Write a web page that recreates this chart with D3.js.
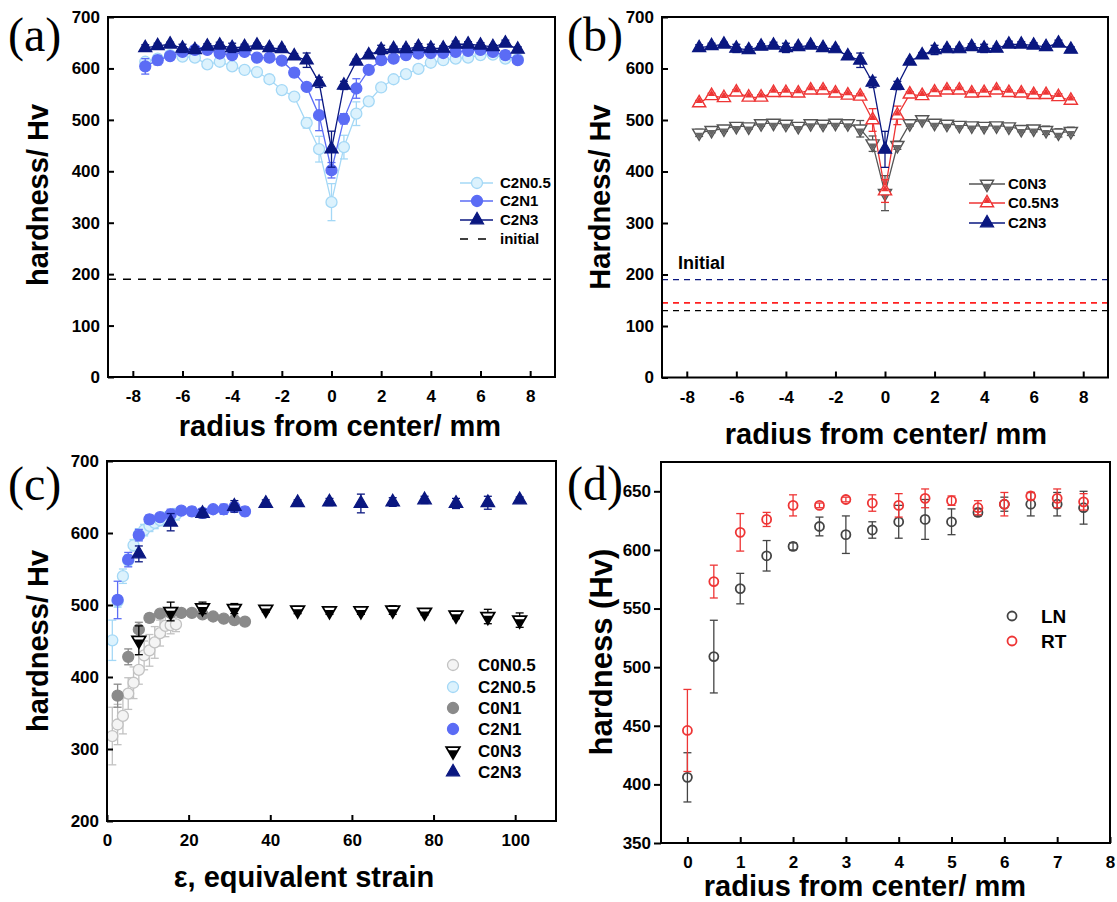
<!DOCTYPE html>
<html>
<head>
<meta charset="utf-8">
<script src="https://cdn.jsdelivr.net/npm/d3@7"></script>
<style>
  body { margin: 0; background: #fff; }
  svg { display: block; }
</style>
</head>
<body>
<svg id="fig" width="1117" height="902"></svg>
<script>
// ---------- data ----------
// radial positions across the disc (mm)
const radiusFull = [-7.5,-7,-6.5,-6,-5.5,-5,-4.5,-4,-3.5,-3,-2.5,-2,-1.5,-1,-0.5,0,0.5,1,1.5,2,2.5,3,3.5,4,4.5,5,5.5,6,6.5,7,7.5];

// (a) hardness profiles, C2 series
const a_C2N05 = [613,619,626,623,621,608,613,604,597,593,579,558,545,494,443,340,447,512,536,563,579,589,599,611,616,619,621,626,627,619,618];
const a_C2N05_err = [6,6,5,5,5,6,6,5,5,5,8,6,6,10,25,36,23,23,8,6,6,5,6,7,6,6,5,5,5,6,5];
const a_C2N1 = [604,616,624,632,636,636,629,626,632,621,621,615,592,564,509,402,502,561,597,616,619,626,629,630,630,632,634,636,632,626,616];
const a_C2N1_err = [15,9,7,6,5,5,5,6,5,5,5,6,8,6,30,15,10,19,6,7,5,5,5,5,5,6,5,5,5,8,6];
const C2N3 = [640,644,647,639,636,643,645,640,642,645,640,638,624,616,573,443,567,614,626,636,638,638,642,639,639,647,647,645,642,649,637];
const C2N3_err = [6,5,4,8,6,5,6,9,5,4,4,5,5,14,10,35,8,4,5,9,5,5,6,8,5,6,5,5,4,6,5];
const a_initial = 190;

// (b) hardness profiles, N3 series
const b_C0N3 = [475,480,483,488,487,493,494,492,488,493,492,494,493,483,454,358,451,493,501,494,492,490,489,488,489,487,482,483,480,475,478];
const b_C0N3_err = [7,5,5,5,5,5,4,5,5,4,5,5,6,16,15,34,8,5,4,5,5,5,5,5,5,5,5,6,8,8,8];
const b_C05N3 = [533,547,543,554,544,544,553,553,552,558,558,552,548,546,500,362,509,550,547,554,558,558,552,553,558,553,552,549,549,545,538];
const b_C05N3_err = [5,5,5,5,5,5,4,5,5,4,5,5,5,5,22,22,18,5,5,5,5,5,5,5,5,5,5,6,5,6,5];
const b_initial = [190, 145, 130];   // C2N3, C0.5N3, C0N3 starting hardness

// (c) hardness vs equivalent strain
const strainN05 = [1.3,2.6,3.9,5.2,6.5,7.8,9.1,10.4,11.7,13,14.3,15.6,16.9];
const strainN1  = [2.6,5.2,7.8,10.4,13,15.6,18.2,20.8,23.4,26,28.6,31.2,33.8];
const strainN3  = [7.8,15.6,23.4,31.2,38.9,46.7,54.5,62.2,70,77.8,85.5,93.3,101.1];
const c_C0N05 = [318,334,346,377,392,410,430,437,448,461,471,472,473];
const c_C0N05_err = [40,28,25,22,22,20,20,22,22,18,15,12,10];
const c_C2N05 = [451,505,540,562,583,598,604,610,614,618,621,623,626];
const c_C2N05_err = [28,8,10,8,8,8,8,8,8,8,8,8,8];
const c_C0N1 = [374,428,466,482,488,489,489,489,487,484,481,479,477];
const c_C0N1_err = [16,11,10,6,4,4,4,4,4,4,4,4,4];
const c_C2N1 = [507,563,597,619,622,626,631,630,628,633,633,636,630];
const c_C2N1_err = [26,10,8,6,5,7,5,6,6,4,7,6,6];
const c_C0N3 = [451,491,496,495,494,493,492,492,493,490,486,484,479];
const c_C0N3_err = [20,13,8,7,4,5,5,5,6,4,5,10,10];
const c_C2N3 = [571,615,627,637,641,642,643,641,643,646,641,642,646];
const c_C2N3_err = [11,12,6,8,5,4,5,13,6,5,7,9,4];

// (d) half profile, LN vs RT processing
const radiusHalf = [0,0.5,1,1.5,2,2.5,3,3.5,4,4.5,5,5.5,6,6.5,7,7.5];
const d_LN = [406,509,567,595,603,620,613,617,624,626,624,632,639,639,639,636];
const d_LN_err = [21,31,13,13,3,8,16,7,14,17,11,3,6,10,10,14];
const d_RT = [446,573,615,626,638,638,643,640,638,644,642,636,639,646,644,641];
const d_RT_err = [35,14,16,6,9,2,2,7,10,8,4,6,10,3,8,7];

// tick values
const ticksRadiusSym = [-8,-6,-4,-2,0,2,4,6,8];
const ticksHard700 = [0,100,200,300,400,500,600,700];
const ticksStrain = [0,20,40,60,80,100];
const ticksHardC = [200,300,400,500,600,700];
const ticksRadiusHalf = [0,1,2,3,4,5,6,7,8];
const ticksHardD = [350,400,450,500,550,600,650];

// ---------- helpers ----------
const svg = d3.select('#fig');
const SANS = '"Liberation Sans", Arial, Helvetica, sans-serif';
const SERIF = '"Liberation Serif", "Times New Roman", serif';

const COL = {
  lightBlue: '#a4d8f6', lightBlueFill: '#dcf2fd',
  midBlue: '#5b6cf5', navy: '#0a1780',
  gray: '#555555', red: '#ee3535',
  lightGray: '#c2c2c2', midGray: '#8a8a8a'
};

function makePanel(box, xDom, yDom) {
  const x = d3.scaleLinear().domain(xDom).range([box.l, box.r]);
  const y = d3.scaleLinear().domain(yDom).range([box.b, box.t]);
  const g = svg.append('g');
  return { x, y, g, box };
}

function styleAxis(sel, size) {
  sel.select('.domain').remove();
  sel.selectAll('.tick line').attr('stroke', '#000').attr('stroke-width', 2);
  sel.selectAll('.tick text')
    .attr('fill', '#000')
    .style('font-family', SANS).style('font-weight', 'bold').style('font-size', size + 'px');
}

function drawAxes(p, o) {
  const fmt = d => String(d);
  const gx = p.g.append('g').attr('transform', `translate(0,${p.box.b})`)
    .call(d3.axisBottom(p.x).tickValues(o.xTicks).tickFormat(fmt)
      .tickSizeInner(o.xInner).tickSizeOuter(0).tickPadding(o.xPad));
  styleAxis(gx, 17);
  const gy = p.g.append('g').attr('transform', `translate(${p.box.l},0)`)
    .call(d3.axisLeft(p.y).tickValues(o.yTicks).tickFormat(fmt)
      .tickSizeInner(o.yInner).tickSizeOuter(0).tickPadding(o.yPad));
  styleAxis(gy, 17);
}

function drawFrame(p) {
  p.g.append('rect')
    .attr('x', p.box.l).attr('y', p.box.t)
    .attr('width', p.box.r - p.box.l).attr('height', p.box.b - p.box.t)
    .attr('fill', 'none').attr('stroke', '#000').attr('stroke-width', 2);
}

// marker glyphs
function marker(g, kind, cx, cy, st) {
  const t = `translate(${cx},${cy})`;
  if (kind === 'circle') {
    g.append('circle').attr('cx', cx).attr('cy', cy).attr('r', st.r || 5.5)
      .attr('fill', st.fill).attr('stroke', st.stroke).attr('stroke-width', st.sw || 1.3);
  } else if (kind === 'triUp') {
    g.append('path').attr('d', d3.symbol().type(d3.symbolTriangle).size(st.size || 70)())
      .attr('transform', t).attr('fill', st.fill).attr('stroke', st.stroke).attr('stroke-width', st.sw || 1.2);
  } else if (kind === 'triUpHalf') {
    g.append('path').attr('d', d3.symbol().type(d3.symbolTriangle).size(st.size || 70)())
      .attr('transform', t).attr('fill', '#fff').attr('stroke', st.stroke).attr('stroke-width', st.sw || 1.4);
    g.append('path').attr('d', d3.symbol().type(d3.symbolTriangle).size((st.size || 70) * 0.3)())
      .attr('transform', `translate(${cx},${cy - 2})`).attr('fill', st.stroke).attr('stroke', 'none');
  } else if (kind === 'triDownHalf') {
    g.append('path').attr('d', d3.symbol().type(d3.symbolTriangle).size(st.size || 70)())
      .attr('transform', t + ' rotate(180)').attr('fill', '#fff').attr('stroke', st.stroke).attr('stroke-width', st.sw || 1.4);
    const k = st.innerScale || 0.35;
    g.append('path').attr('d', d3.symbol().type(d3.symbolTriangle).size((st.size || 70) * k)())
      .attr('transform', `translate(${cx},${cy + 2}) rotate(180)`).attr('fill', st.inner || st.stroke).attr('stroke', 'none');
  }
}

function series(p, xs, ys, errs, kind, st, withLine) {
  const g = p.g.append('g');
  if (withLine) {
    g.append('path')
      .datum(xs.map((x, i) => [x, ys[i]]))
      .attr('d', d3.line().x(d => p.x(d[0])).y(d => p.y(d[1])))
      .attr('fill', 'none').attr('stroke', st.line || st.stroke).attr('stroke-width', 1.3);
  }
  const cap = 4;
  xs.forEach((xv, i) => {
    if (!errs) return;
    const px = p.x(xv), y1 = p.y(ys[i] - errs[i]), y2 = p.y(ys[i] + errs[i]);
    const c = st.err || st.stroke;
    g.append('line').attr('x1', px).attr('x2', px).attr('y1', y1).attr('y2', y2).attr('stroke', c).attr('stroke-width', 1.3);
    g.append('line').attr('x1', px - cap).attr('x2', px + cap).attr('y1', y1).attr('y2', y1).attr('stroke', c).attr('stroke-width', 1.3);
    g.append('line').attr('x1', px - cap).attr('x2', px + cap).attr('y1', y2).attr('y2', y2).attr('stroke', c).attr('stroke-width', 1.3);
  });
  xs.forEach((xv, i) => marker(g, kind, p.x(xv), p.y(ys[i]), st));
}

function text(x, y, s, o) {
  const t = svg.append('text').attr('x', x).attr('y', y).text(s)
    .style('font-family', o.serif ? SERIF : SANS)
    .style('font-weight', o.serif ? 'normal' : 'bold')
    .style('font-size', o.size + 'px')
    .attr('text-anchor', o.anchor || 'start')
    .attr('fill', o.fill || '#000');
  if (o.rotate) t.attr('transform', `rotate(-90,${x},${y})`);
  return t;
}

function legendRow(x0, x1, xm, xt, y, label, kind, st, size, dashed) {
  if (x0 !== null) {
    svg.append('line').attr('x1', x0).attr('x2', x1).attr('y1', y).attr('y2', y)
      .attr('stroke', dashed ? '#000' : (st.line || st.stroke)).attr('stroke-width', dashed ? 1.6 : 1.3)
      .attr('stroke-dasharray', dashed ? '8,10' : null);
  }
  if (kind) marker(svg, kind, xm, y, st);
  text(xt, y, label, { size }).attr('dy', '0.36em');
}

// ---------- styles ----------
const sC2N05 = { fill: COL.lightBlueFill, stroke: COL.lightBlue, r: 5.5 };
const sC2N1 = { fill: COL.midBlue, stroke: COL.midBlue, r: 5.5 };
const sC2N3 = { fill: COL.navy, stroke: COL.navy, size: 75 };
const sC0N3b = { stroke: COL.gray, inner: '#666', size: 75 };
const sC05N3 = { stroke: COL.red, size: 75 };

// ---------- (a) ----------
const pa = makePanel({ l: 108, r: 555, t: 17, b: 377 }, [-9, 9], [0, 700]);
pa.g.append('line').attr('x1', pa.box.l).attr('x2', pa.box.r)
  .attr('y1', pa.y(a_initial)).attr('y2', pa.y(a_initial))
  .attr('stroke', '#000').attr('stroke-width', 1.6).attr('stroke-dasharray', '8,7');
series(pa, radiusFull, a_C2N05, a_C2N05_err, 'circle', sC2N05, true);
series(pa, radiusFull, a_C2N1, a_C2N1_err, 'circle', sC2N1, true);
series(pa, radiusFull, C2N3, C2N3_err, 'triUp', sC2N3, true);
drawFrame(pa);
drawAxes(pa, { xTicks: ticksRadiusSym, yTicks: ticksHard700, xInner: -6, xPad: 13, yInner: -6, yPad: 8 });
legendRow(460, 493, 477, 500, 183, 'C2N0.5', 'circle', sC2N05, 15);
legendRow(460, 493, 477, 500, 201, 'C2N1', 'circle', sC2N1, 15);
legendRow(460, 493, 477, 500, 220, 'C2N3', 'triUp', sC2N3, 15);
legendRow(460, 493, null, 500, 239, 'initial', null, {}, 15, true);
text(340, 436, 'radius from center/ mm', { size: 29, anchor: 'middle' });
text(48, 195, 'hardness/ Hv', { size: 29, anchor: 'middle', rotate: true });
text(8, 51, '(a)', { size: 48, serif: true });

// ---------- (b) ----------
const pb = makePanel({ l: 662, r: 1108, t: 17, b: 377.5 }, [-9, 9], [0, 700]);
const initCols = [COL.navy, '#ff2020', '#000'];
b_initial.forEach((v, i) => {
  pb.g.append('line').attr('x1', pb.box.l).attr('x2', pb.box.r)
    .attr('y1', pb.y(v)).attr('y2', pb.y(v))
    .attr('stroke', initCols[i]).attr('stroke-width', i === 1 ? 1.8 : 1.3).attr('stroke-dasharray', '6,5');
});
series(pb, radiusFull, b_C0N3, b_C0N3_err, 'triDownHalf', sC0N3b, true);
series(pb, radiusFull, b_C05N3, b_C05N3_err, 'triUpHalf', sC05N3, true);
series(pb, radiusFull, C2N3, C2N3_err, 'triUp', sC2N3, true);
drawFrame(pb);
drawAxes(pb, { xTicks: ticksRadiusSym, yTicks: ticksHard700, xInner: -6, xPad: 13, yInner: -6, yPad: 8 });
legendRow(969, 1005, 987, 1008, 184, 'C0N3', 'triDownHalf', sC0N3b, 15);
legendRow(969, 1005, 987, 1008, 203, 'C0.5N3', 'triUpHalf', sC05N3, 15);
legendRow(969, 1005, 987, 1008, 223, 'C2N3', 'triUp', sC2N3, 15);
text(678, 269, 'Initial', { size: 18 });
text(886, 444, 'radius from center/ mm', { size: 29, anchor: 'middle' });
text(610, 197, 'Hardness/ Hv', { size: 29, anchor: 'middle', rotate: true });
text(567, 51, '(b)', { size: 48, serif: true });

// ---------- (c) ----------
const pc = makePanel({ l: 107, r: 556, t: 461, b: 821 }, [0, 110], [200, 700]);
const sC0N05 = { fill: '#f4f4f4', stroke: COL.lightGray, r: 5.5 };
const sC0N1 = { fill: COL.midGray, stroke: COL.midGray, r: 5.5 };
const sC0N3c = { stroke: '#000', inner: '#000', size: 80, sw: 1.8, innerScale: 0.5 };
series(pc, strainN05, c_C0N05, c_C0N05_err, 'circle', sC0N05, false);
series(pc, strainN05, c_C2N05, c_C2N05_err, 'circle', sC2N05, false);
series(pc, strainN1, c_C0N1, c_C0N1_err, 'circle', sC0N1, false);
series(pc, strainN1, c_C2N1, c_C2N1_err, 'circle', sC2N1, false);
series(pc, strainN3, c_C0N3, c_C0N3_err, 'triDownHalf', sC0N3c, false);
series(pc, strainN3, c_C2N3, c_C2N3_err, 'triUp', Object.assign({}, sC2N3, { size: 80 }), false);
drawFrame(pc);
drawAxes(pc, { xTicks: ticksStrain, yTicks: ticksHardC, xInner: -6, xPad: 13, yInner: -6, yPad: 8 });
const legC = [
  ['C0N0.5', 'circle', sC0N05], ['C2N0.5', 'circle', sC2N05], ['C0N1', 'circle', sC0N1],
  ['C2N1', 'circle', sC2N1], ['C0N3', 'triDownHalf', sC0N3c], ['C2N3', 'triUp', sC2N3]
];
const legCy = [665, 687, 708, 729, 751, 772];
legC.forEach((d, i) => legendRow(null, null, 453, 478, legCy[i], d[0], d[1], d[2], 17));
text(304, 887, 'ε, equivalent strain', { size: 29, anchor: 'middle' });
text(48, 641, 'hardness/ Hv', { size: 29, anchor: 'middle', rotate: true });
text(8, 500, '(c)', { size: 48, serif: true });

// ---------- (d) ----------
const pd = makePanel({ l: 661, r: 1110, t: 462, b: 843 }, [-0.5, 8], [350, 675]);
const sLN = { fill: 'none', stroke: '#444', r: 4.5, sw: 1.8 };
const sRT = { fill: 'none', stroke: COL.red, r: 4.5, sw: 1.8 };
series(pd, radiusHalf, d_LN, d_LN_err, 'circle', sLN, false);
series(pd, radiusHalf, d_RT, d_RT_err, 'circle', sRT, false);
drawFrame(pd);
drawAxes(pd, { xTicks: ticksRadiusHalf, yTicks: ticksHardD, xInner: -6, xPad: 13, yInner: 7, yPad: 3 });
legendRow(null, null, 1012, 1041, 616, 'LN', 'circle', sLN, 19);
legendRow(null, null, 1012, 1041, 641, 'RT', 'circle', sRT, 19);
text(865, 896, 'radius from center/ mm', { size: 29, anchor: 'middle' });
text(612, 652, 'hardness (Hv)', { size: 31, anchor: 'middle', rotate: true });
text(567, 500, '(d)', { size: 48, serif: true });
</script>
</body>
</html>
